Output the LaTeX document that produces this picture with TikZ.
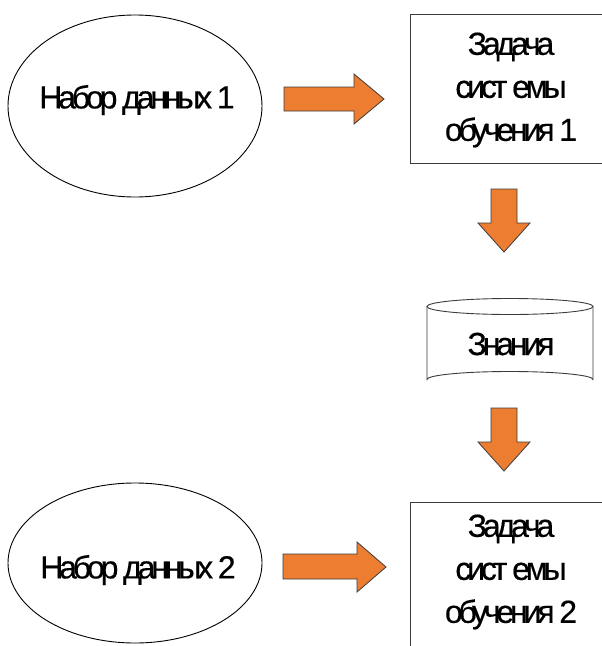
\documentclass[tikz,border=0pt]{standalone}
\usepackage{fontspec}
\setmainfont{Liberation Sans}[LetterSpace=-13, FakeBold=0.4]
\usetikzlibrary{shapes.geometric}
\definecolor{arrorange}{HTML}{ED7D31}
\definecolor{edgegray}{HTML}{3C3C3C}
\begin{document}
\begin{tikzpicture}[x=1pt,y=-1pt,
  lbl/.style={font=\fontsize{32}{43}\selectfont, align=center, inner sep=0pt},
  dataset/.style={draw=black, line width=0.9pt, ellipse, inner sep=0pt},
  taskbox/.style={draw=edgegray, line width=1pt},
  blockarrow/.style={fill=arrorange, draw=edgegray, line width=0.8pt, line join=miter}]
\useasboundingbox (0,0) rectangle (602,646);
% data sets
\node[dataset, minimum width=254pt, minimum height=182pt] (e1) at (135,106) {};
\node[lbl] (t1) at (137,100) {Набор данных 1};
\node[dataset, minimum width=254pt, minimum height=160pt] (e2) at (135,563) {};
\node[lbl] (t2) at (138,570) {Набор данных 2};
% task boxes
\draw[taskbox] (410,14) rectangle (614,163);
\node[lbl] (b1) at (511,90) {Задача\\сист емы\\обучения 1};
\draw[taskbox] (410,502) rectangle (614,660);
\node[lbl] (b2) at (511,572) {Задача\\сист емы\\обучения 2};
% knowledge cylinder
\draw[taskbox, line width=0.9pt] (510,306.5) ellipse [x radius=83, y radius=8];
\draw[taskbox, line width=0.9pt] (427,306.5) -- (427,379.5) arc[start angle=180, end angle=360, x radius=83, y radius=8] -- (593,306.5);
\node[lbl] (k) at (511,344) {Знания};
% block arrows
\draw[blockarrow] (284,87) -- (354,87) -- (354,74) -- (384,99) -- (354,124) -- (354,111) -- (284,111) -- cycle;
\draw[blockarrow] (283,554) -- (357,554) -- (357,542) -- (386,567) -- (357,592) -- (357,579) -- (283,579) -- cycle;
\draw[blockarrow] (491,189) -- (517,189) -- (517,223) -- (530,223) -- (504,252) -- (478,223) -- (491,223) -- cycle;
\draw[blockarrow] (491,408) -- (517,408) -- (517,442) -- (530,442) -- (504,471) -- (478,442) -- (491,442) -- cycle;
\end{tikzpicture}
\end{document}
